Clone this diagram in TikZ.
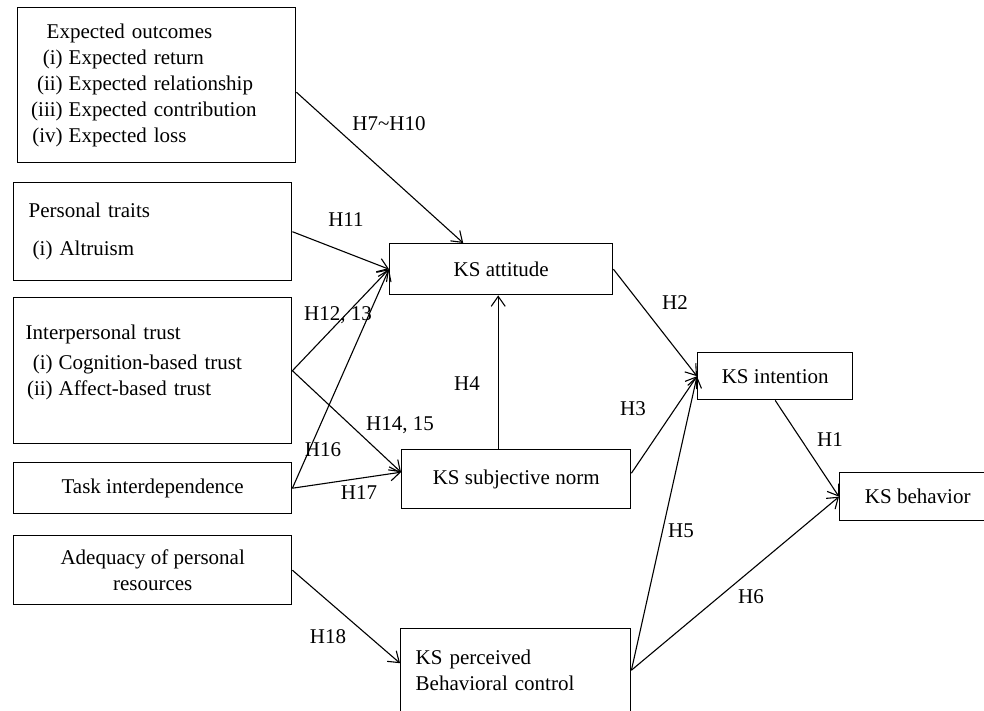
\documentclass[tikz,border=0pt]{standalone}
\usepackage{fontspec}
\setmainfont{Liberation Serif}
\usetikzlibrary{positioning,calc,arrows.meta}
\newcommand{\itm}[3][30pt]{\makebox[#1][r]{#2}\hspace{6pt}#3}

\begin{document}
\begin{tikzpicture}[x=1pt,y=-1pt,
block/.style={rectangle,draw,line width=1.4pt,anchor=north west,inner ysep=0pt,font=\fontsize{21}{26}\selectfont},
lbl/.style={font=\fontsize{21}{24}\selectfont,inner sep=0pt},
line/.style={draw,line width=1.1pt,-{Straight Barb[length=10pt,width=14pt]}}]

\useasboundingbox (0,0) rectangle (984,710);
\clip (0,0) rectangle (984,710);

\node [block,minimum width=278pt,minimum height=155pt,text width=248pt,inner xsep=15pt,align=left] (outcomes) at (17,7) {\hspace*{14pt}Expected outcomes\\ \itm{(i)}{Expected return}\\ \itm{(ii)}{Expected relationship}\\ \itm{(iii)}{Expected contribution}\\ \itm{(iv)}{Expected loss}};
\node [block,minimum width=278pt,minimum height=98pt,text width=248pt,inner xsep=15pt,align=left] (traits) at (13,182) {Personal traits\\[12pt] \hspace*{4pt}(i) Altruism};
\node [block,minimum width=278pt,minimum height=146pt,text width=254pt,inner xsep=12pt,align=left] (trust) at (13,297) {Interpersonal trust\\[4pt] \itm[27pt]{(i)}{Cognition-based trust}\\ \itm[27pt]{(ii)}{Affect-based trust}\\[-6pt]\mbox{}};
\node [block,minimum width=278pt,minimum height=51pt] (task) at (13,462) {Task interdependence};
\node [block,minimum width=278pt,minimum height=69pt,align=center] (resources) at (13,535) {Adequacy of personal\\resources};

\node [block,minimum width=223pt,minimum height=51pt] (attitude) at (389,243) {KS attitude};
\node [block,minimum width=229pt,minimum height=59pt] (norm) at (401,449) {KS subjective norm};
\node [block,minimum width=230pt,minimum height=83pt,text width=200pt,inner xsep=15pt,align=left] (control) at (400,628) {KS perceived\\Behavioral control};
\node [block,minimum width=155pt,minimum height=47pt] (intention) at (697,352) {KS intention};
\node [block,minimum width=156pt,minimum height=48pt] (behavior) at (839,472) {KS behavior};

\path [line] ($(outcomes.east)+(0,7)$) -- ($(attitude.north)+(-38,0)$);
\path [line] (traits.east) -- (attitude.west);
\path [line] (trust.east) -- (attitude.west);
\path [line] (trust.east) -- ($(norm.west)+(0,-7)$);
\path [line] (task.east) -- (attitude.west);
\path [line] (task.east) -- ($(norm.west)+(0,-7)$);
\path [line] (resources.east) -- ($(control.west)+(0,-7)$);

\coordinate (n4) at ($(norm.north)+(-18,0)$);
\path [line] (n4) -- (n4 |- attitude.south);
\path [line] (attitude.east) -- (intention.west);
\path [line] ($(norm.east)+(0,-6)$) -- (intention.west);
\path [line] (control.east) -- (intention.west);
\path [line] (control.east) -- (behavior.west);
\path [line] (intention.south) -- (behavior.west);

\node [lbl] (h7) at (389,124) {H7\textasciitilde H10};
\node [lbl] (h11) at (346,220) {H11};
\node [lbl] (h12) at (338,315) {H12, 13};
\node [lbl] (h14) at (400,425) {H14, 15};
\node [lbl] (h16) at (323,450) {H16};
\node [lbl] (h17) at (359,493) {H17};
\node [lbl] (h18) at (328,637) {H18};
\node [lbl] (h4) at (467,384) {H4};
\node [lbl] (h2) at (675,303) {H2};
\node [lbl] (h3) at (633,409) {H3};
\node [lbl] (h5) at (681,531) {H5};
\node [lbl] (h6) at (751,597) {H6};
\node [lbl] (h1) at (830,440) {H1};
\end{tikzpicture}
\end{document}
